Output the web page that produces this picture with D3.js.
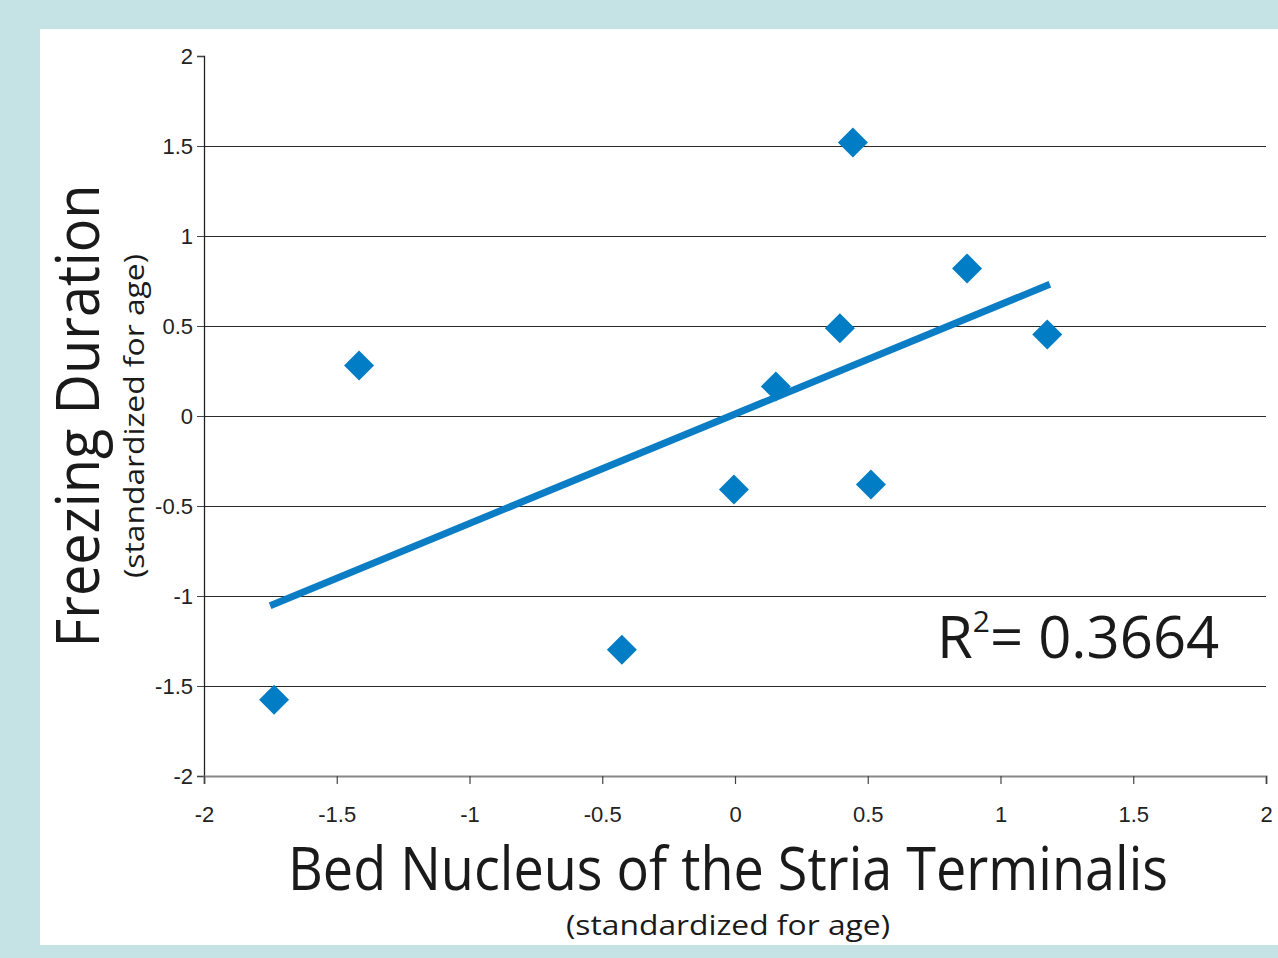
<!DOCTYPE html>
<html>
<head>
<meta charset="utf-8">
<script src="https://cdn.jsdelivr.net/npm/d3@7"></script>
<style>
  body { margin: 0; background: #c5e2e5; }
  svg { display: block; }
</style>
</head>
<body>
<div id="vis"></div>
<script>
// values
const bnst = [0.444, 0.874, 0.395, 1.176, 0.154, -1.416, -0.004, 0.512, -0.426, -1.736];
const freezing = [1.52, 0.82, 0.487, 0.453, 0.164, 0.281, -0.409, -0.381, -1.299, -1.577];
const trendX = [-1.751, 1.186];
const trendY = [-1.054, 0.732];
const ticks = [-2, -1.5, -1, -0.5, 0, 0.5, 1, 1.5, 2];
const rSquared = "0.3664";

const W = 1278, H = 958;
const svg = d3.select('#vis').append('svg')
  .attr('width', W)
  .attr('height', H);

// white panel
svg.append('rect')
  .attr('x', 40).attr('y', 29)
  .attr('width', W - 40).attr('height', 916)
  .attr('fill', '#fff');

const x = d3.scaleLinear().domain([-2, 2]).range([204, 1266]);
const y = d3.scaleLinear().domain([-2, 2]).range([776, 56]);

// gridlines
svg.append('g').selectAll('line')
  .data(ticks.filter(t => t > -2 && t < 2))
  .enter().append('line')
  .attr('x1', x(-2)).attr('x2', x(2))
  .attr('y1', d => Math.round(y(d)) + 0.5).attr('y2', d => Math.round(y(d)) + 0.5)
  .attr('stroke', '#2a2a2a').attr('stroke-width', 1);

const tickFmt = d => String(d);

// y axis
const yAxis = svg.append('g')
  .attr('transform', `translate(${x(-2)},0)`)
  .call(d3.axisLeft(y).tickValues(ticks).tickSize(7).tickPadding(4).tickFormat(tickFmt));
yAxis.select('.domain').attr('stroke', '#222').attr('stroke-width', 1.3);
yAxis.selectAll('.tick line').attr('stroke', '#444');
yAxis.selectAll('text')
  .attr('font-family', 'Liberation Sans, Arial, sans-serif')
  .attr('font-size', 22).attr('fill', '#222');

// x axis
const xAxis = svg.append('g')
  .attr('transform', `translate(0,${y(-2)})`)
  .call(d3.axisBottom(x).tickValues(ticks).tickSize(8).tickPadding(22).tickFormat(tickFmt));
xAxis.select('.domain').attr('stroke', '#888').attr('stroke-width', 2);
xAxis.selectAll('.tick line').attr('stroke', '#444').attr('stroke-width', 1.2);
xAxis.selectAll('text')
  .attr('font-family', 'Liberation Sans, Arial, sans-serif')
  .attr('font-size', 22).attr('fill', '#222');

// trendline
svg.append('line')
  .attr('x1', x(trendX[0])).attr('y1', y(trendY[0]))
  .attr('x2', x(trendX[1])).attr('y2', y(trendY[1]))
  .attr('stroke', '#0b7dc5').attr('stroke-width', 7);

// diamonds
const pts = bnst.map((v, i) => ({ x: v, y: freezing[i] }));
svg.append('g').selectAll('path')
  .data(pts)
  .enter().append('path')
  .attr('transform', d => `translate(${x(d.x)},${y(d.y)})`)
  .attr('d', 'M0,-15L15,0L0,15L-15,0Z')
  .attr('fill', '#007dc4');

// axis titles
const titleFont = 'Open Sans, Noto Sans, sans-serif';
svg.append('text')
  .attr('x', 728).attr('y', 890)
  .attr('text-anchor', 'middle')
  .attr('font-family', titleFont).attr('font-size', 60)
  .attr('textLength', 880).attr('lengthAdjust', 'spacingAndGlyphs')
  .attr('fill', '#1a1a1a')
  .text('Bed Nucleus of the Stria Terminalis');
svg.append('text')
  .attr('x', 728).attr('y', 935)
  .attr('text-anchor', 'middle')
  .attr('font-family', titleFont).attr('font-size', 27)
  .attr('textLength', 324).attr('lengthAdjust', 'spacingAndGlyphs')
  .attr('fill', '#1a1a1a')
  .text('(standardized for age)');

svg.append('text')
  .attr('transform', 'translate(99,416) rotate(-90)')
  .attr('text-anchor', 'middle')
  .attr('font-family', titleFont).attr('font-size', 60)
  .attr('textLength', 463).attr('lengthAdjust', 'spacingAndGlyphs')
  .attr('fill', '#1a1a1a')
  .text('Freezing Duration');
svg.append('text')
  .attr('transform', 'translate(144,416) rotate(-90)')
  .attr('text-anchor', 'middle')
  .attr('font-family', titleFont).attr('font-size', 28)
  .attr('textLength', 324).attr('lengthAdjust', 'spacingAndGlyphs')
  .attr('fill', '#1a1a1a')
  .text('(standardized for age)');

// R squared
const r2 = svg.append('text')
  .attr('x', 937).attr('y', 658)
  .attr('font-family', titleFont).attr('font-size', 58)
  .attr('fill', '#1a1a1a');
r2.append('tspan').text('R');
r2.append('tspan').attr('font-size', 30).attr('dy', -26).text('2');
r2.append('tspan').attr('dy', 26).text('= ' + rSquared);
</script>
</body>
</html>
